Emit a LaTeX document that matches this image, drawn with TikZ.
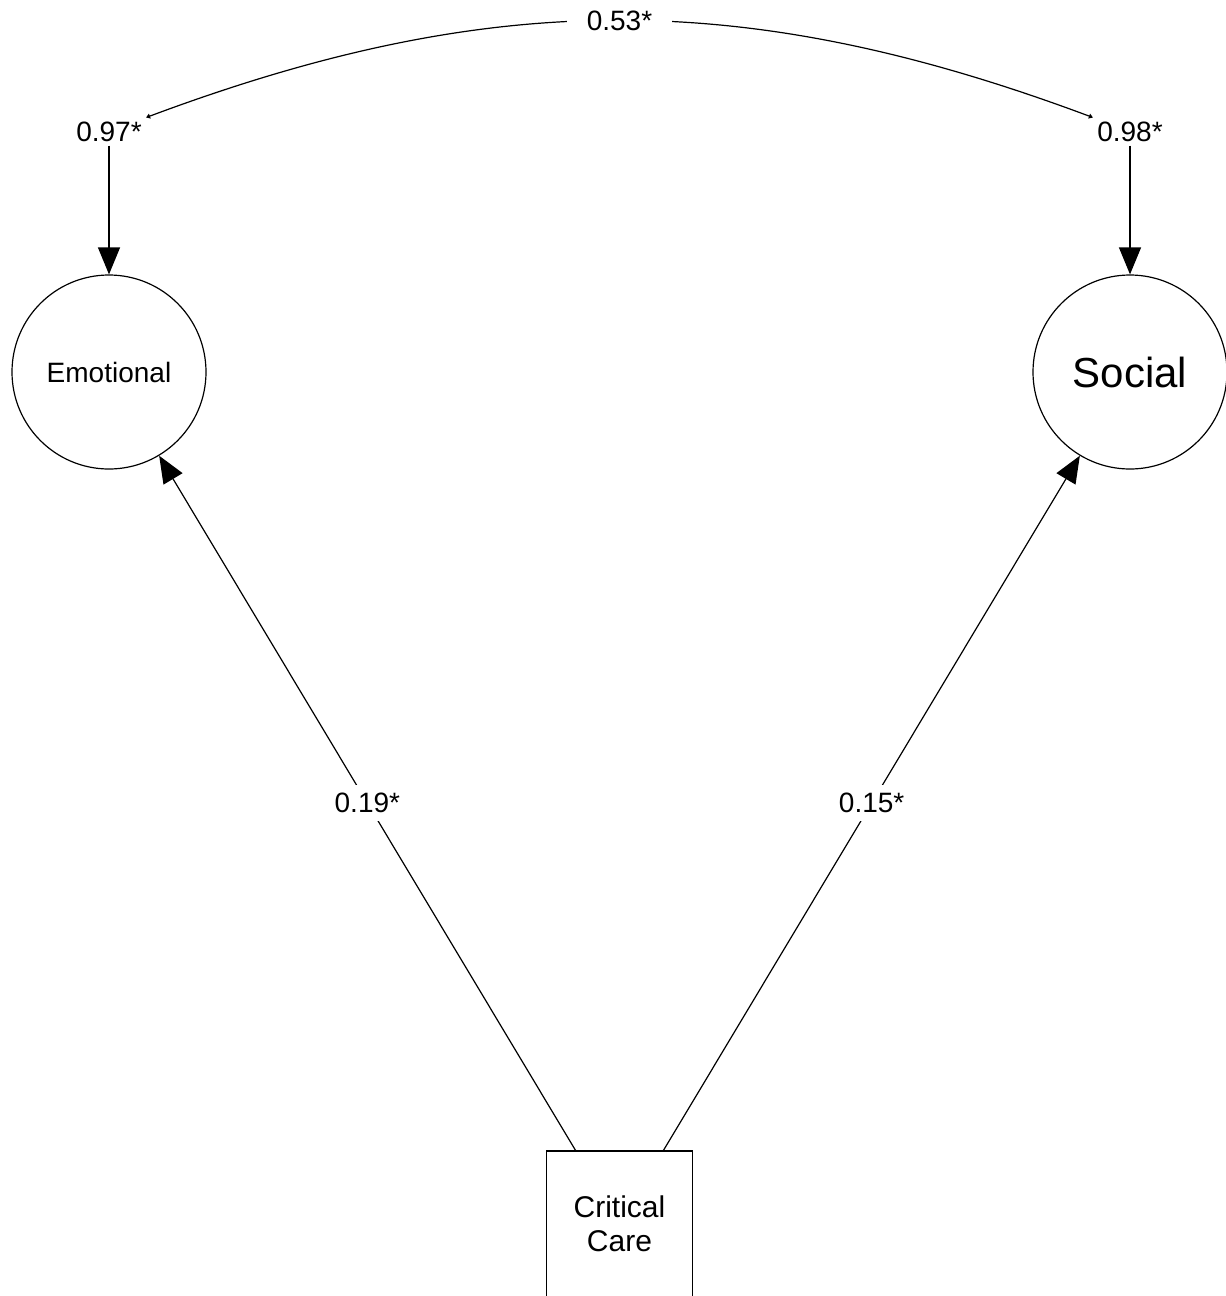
\documentclass[tikz,border=0pt]{standalone}
\usepackage{fontspec}
\setmainfont{Liberation Sans}
\usetikzlibrary{arrows.meta}
\tikzset{latent/.style={draw, circle, minimum size=97pt, inner sep=0pt, line width=0.6pt},
    observed/.style={draw, rectangle, minimum size=73pt, align=center,
        font=\fontsize{15}{17}\selectfont, line width=0.6pt},
    coef/.style={fill=white, font=\fontsize{14}{16}\selectfont, inner sep=2pt},
    regpath/.style={-{Triangle[length=13.5pt,width=11pt]}, line width=0.6pt},
    }

\begin{document}
\begin{tikzpicture}[x=0.5pt,y=-0.5pt]
\useasboundingbox (0,0) rectangle (1226,1296);
% factors
\node[latent, font=\fontsize{14}{16}\selectfont] (emo) at (109,372) {Emotional};
\node[latent, font=\fontsize{21}{24}\selectfont] (soc) at (1130,372) {Social};
\node[observed] (cc) at (619.5,1224) {Critical\\Care};
% residual variances
\node[coef, anchor=base] (emovar) at (109,141) {0.97*};
\node[coef, anchor=base] (socvar) at (1130,141) {0.98*};
\draw[regpath] (emovar) -- (emo);
\draw[regpath] (socvar) -- (soc);
% paths
\draw[regpath] (cc) -- node[coef, inner sep=4pt] {0.19*} (emo);
\draw[regpath] (cc) -- node[coef, inner sep=4pt] {0.15*} (soc);
% covariance
\draw[{Triangle[length=2pt,width=2.5pt]}-{Triangle[length=2pt,width=2.5pt]}, line width=0.6pt]
    (emovar) to[bend left=20.5] node[coef, inner xsep=10pt] {0.53*} (socvar);
\end{tikzpicture}
\end{document}
